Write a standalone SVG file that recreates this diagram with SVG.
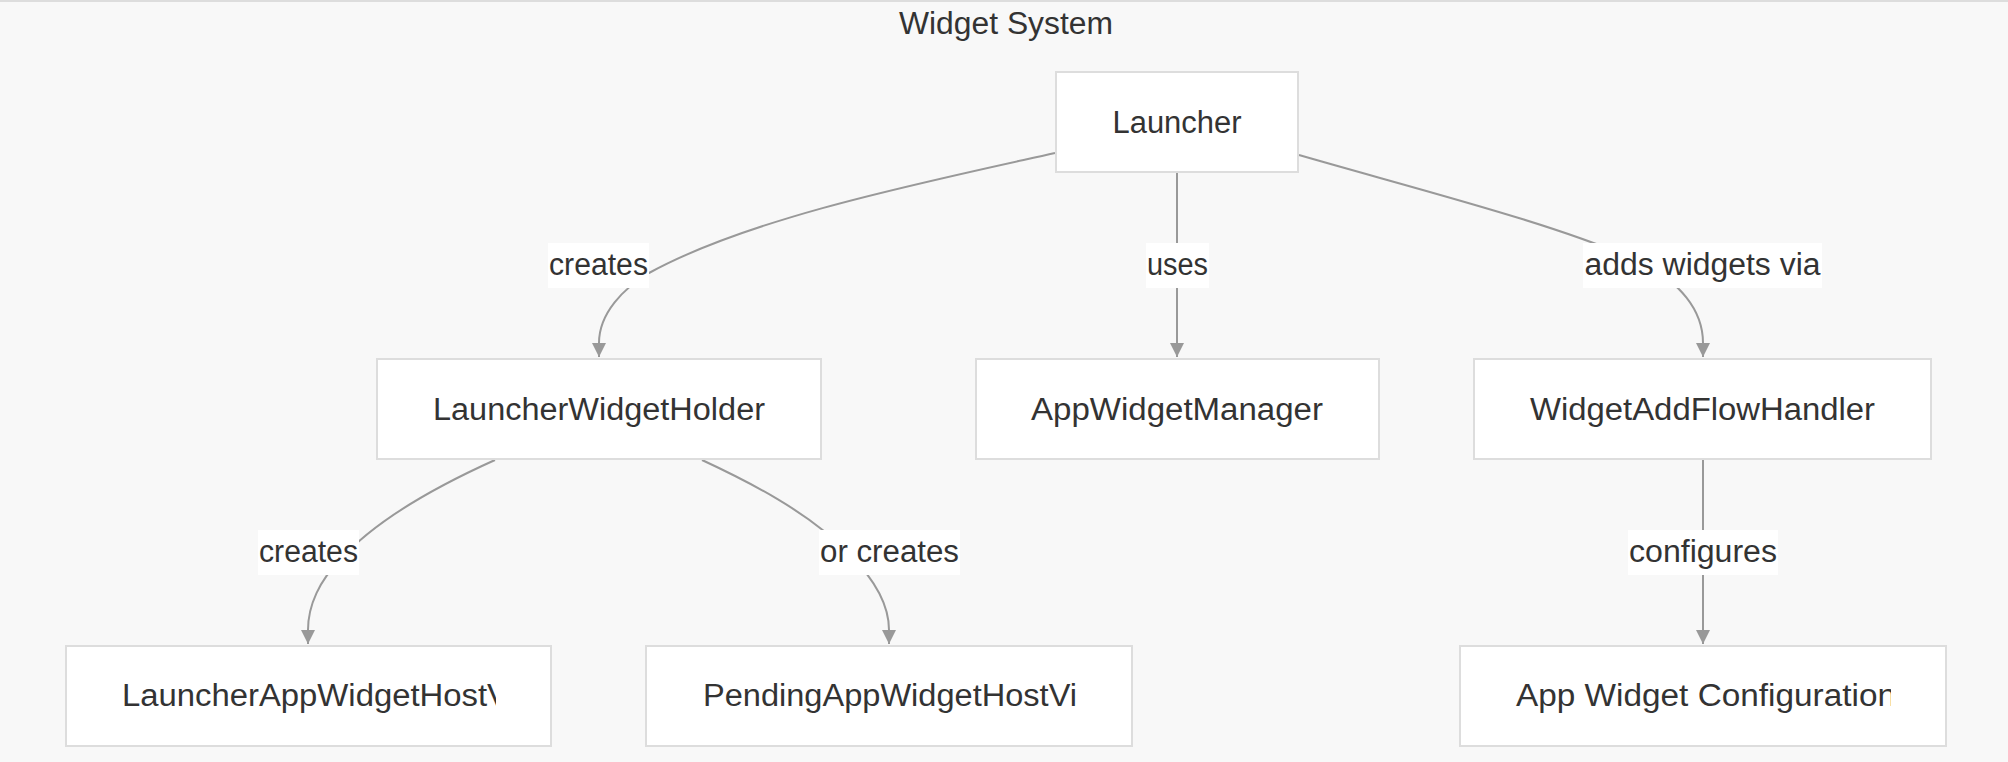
<svg xmlns="http://www.w3.org/2000/svg" width="2008" height="762" viewBox="0 0 2008 762">
<style>
.bg{fill:#f8f8f8;stroke:#dddddd;stroke-width:2}
.node rect{fill:#ffffff;stroke:#dddddd;stroke-width:2}
text{font-family:"Liberation Sans",Arial,sans-serif;font-size:31px;fill:#333333}
.c{text-anchor:middle}
.edge{fill:none;stroke:#999999;stroke-width:2}
.lbl rect{fill:#ffffff;stroke:none}
</style>
<defs>
<marker id="arrow" viewBox="0 0 10 10" refX="10" refY="5" markerUnits="userSpaceOnUse" markerWidth="14" markerHeight="15" orient="auto">
<path d="M0,0 L10,5 L0,10 z" fill="#999999"/>
</marker>
<clipPath id="clipA"><rect x="66" y="646" width="430" height="100"/></clipPath>
<clipPath id="clipB"><rect x="646" y="646" width="433" height="100"/></clipPath>
<clipPath id="clipC"><rect x="1460" y="646" width="431" height="100"/></clipPath>
</defs>
<g id="cluster">
<rect class="bg" x="-5" y="1" width="2020" height="775"/>
<text class="c" x="1006" y="34" textLength="214" lengthAdjust="spacingAndGlyphs">Widget System</text>
</g>
<g id="connectors">
<path class="edge" marker-end="url(#arrow)" d="M1055,153 C920,183 749,218 649,273 C624,288 599,313 599,343 L599,357"/>
<path class="edge" marker-end="url(#arrow)" d="M1177,173 L1177,357"/>
<path class="edge" marker-end="url(#arrow)" d="M1299,155 C1420,190 1560,225 1640,262 C1680,282 1703,310 1703,343 L1703,357"/>
<path class="edge" marker-end="url(#arrow)" d="M495,460 C455,478 380,515 340,560 C320,580 308,605 308,630 L308,644"/>
<path class="edge" marker-end="url(#arrow)" d="M702,460 C745,480 810,512 850,555 C875,580 889,605 889,630 L889,644"/>
<path class="edge" marker-end="url(#arrow)" d="M1703,460 L1703,644"/>
<g class="lbl" id="label-creates-1"><rect x="548" y="243" width="101" height="45"/><text class="c" x="598.5" y="275" textLength="99" lengthAdjust="spacingAndGlyphs">creates</text></g>
<g class="lbl" id="label-uses"><rect x="1146" y="243" width="63" height="45"/><text class="c" x="1177.5" y="275" textLength="61" lengthAdjust="spacingAndGlyphs">uses</text></g>
<g class="lbl" id="label-adds"><rect x="1583" y="243" width="239" height="45"/><text class="c" x="1702.5" y="275" textLength="236" lengthAdjust="spacingAndGlyphs">adds widgets via</text></g>
<g class="lbl" id="label-creates-2"><rect x="258" y="530" width="101" height="45"/><text class="c" x="308.5" y="562" textLength="99" lengthAdjust="spacingAndGlyphs">creates</text></g>
<g class="lbl" id="label-or-creates"><rect x="819" y="530" width="141" height="45"/><text class="c" x="889.5" y="562" textLength="139" lengthAdjust="spacingAndGlyphs">or creates</text></g>
<g class="lbl" id="label-configures"><rect x="1628" y="530" width="150" height="45"/><text class="c" x="1703" y="562" textLength="148" lengthAdjust="spacingAndGlyphs">configures</text></g>
</g>
<g class="node" id="Launcher">
<rect x="1056" y="72" width="242" height="100"/>
<text class="c" x="1177" y="133" textLength="129" lengthAdjust="spacingAndGlyphs">Launcher</text>
</g>
<g class="node" id="LauncherWidgetHolder">
<rect x="377" y="359" width="444" height="100"/>
<text class="c" x="599" y="420" textLength="332" lengthAdjust="spacingAndGlyphs">LauncherWidgetHolder</text>
</g>
<g class="node" id="AppWidgetManager">
<rect x="976" y="359" width="403" height="100"/>
<text class="c" x="1177" y="420" textLength="292" lengthAdjust="spacingAndGlyphs">AppWidgetManager</text>
</g>
<g class="node" id="WidgetAddFlowHandler">
<rect x="1474" y="359" width="457" height="100"/>
<text class="c" x="1702.5" y="420" textLength="345" lengthAdjust="spacingAndGlyphs">WidgetAddFlowHandler</text>
</g>
<g class="node" id="LauncherAppWidgetHostView">
<rect x="66" y="646" width="485" height="100"/>
<text x="122" y="706" clip-path="url(#clipA)" textLength="387" lengthAdjust="spacingAndGlyphs">LauncherAppWidgetHostV</text>
</g>
<g class="node" id="PendingAppWidgetHostView">
<rect x="646" y="646" width="486" height="100"/>
<text x="703" y="706" clip-path="url(#clipB)" textLength="374" lengthAdjust="spacingAndGlyphs">PendingAppWidgetHostVi</text>
</g>
<g class="node" id="AppWidgetConfiguration">
<rect x="1460" y="646" width="486" height="100"/>
<text x="1516" y="706" clip-path="url(#clipC)" textLength="380" lengthAdjust="spacingAndGlyphs">App Widget Configuration</text>
</g>
</svg>
